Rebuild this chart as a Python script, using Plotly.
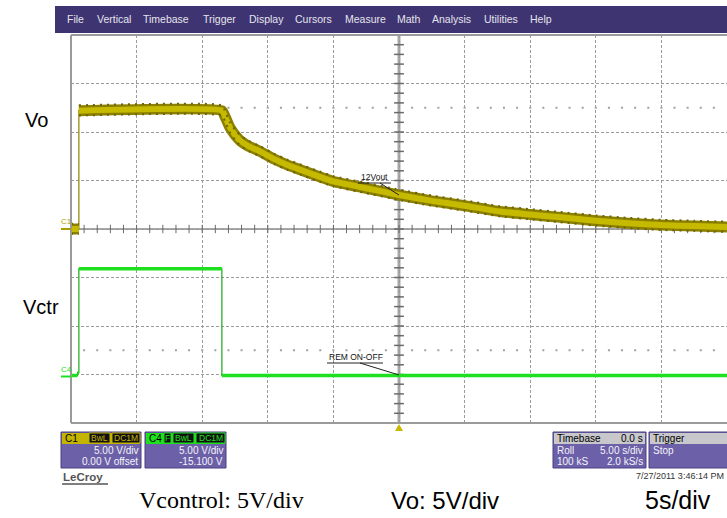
import plotly.graph_objects as go

# ---- data (seconds / volts) ----
vo_time = [0.0, 0.6, 0.6, 11.5, 11.8, 12.1, 12.5, 12.9, 13.6, 14.4, 15.5, 16.5, 17.5,
           18.7, 20.0, 22.5, 25.0, 27.5, 30.0, 32.7, 35.0, 37.3, 40.0, 42.5, 45.0,
           47.5, 50.0]
vo_volt = [0.0, 0.0, 12.2, 12.2, 11.4, 10.5, 9.7, 9.1, 8.5, 8.0, 7.2, 6.6, 6.1,
           5.5, 4.9, 4.2, 3.5, 2.9, 2.4, 1.8, 1.5, 1.2, 0.85, 0.6, 0.4,
           0.3, 0.2]

vctr_time = [0.0, 0.5, 0.5, 0.6, 0.6, 11.5, 11.5, 50.0]
vctr_volt = [0.0, 0.0, 0.3, 0.3, 11.0, 11.0, 0.0, 0.0]
c4_offset = -15.1

menu_items = ["File", "Vertical", "Timebase", "Trigger", "Display", "Cursors",
              "Measure", "Math", "Analysis", "Utilities", "Help"]
menu_x = [65, 95, 141, 201, 247, 293, 343, 395, 430, 482, 528]

OLIVE = "#8C8000"
YELLOW = "#C6BA00"
GREEN = "#1FE01F"
DKGREEN = "#1AA81A"
PURPLE = "#6C60A8"
FONT = "Liberation Sans"

# plot area in pixels
L, T, R, B = 71, 35, 727, 423


def px(x):
    return (x - L) / (R - L)


def py(y):
    return (B - y) / (B - T)


def runs(t, v):
    # split a trace wherever it jumps vertically
    out, cur_t, cur_v = [], [t[0]], [v[0]]
    for i in range(1, len(t)):
        if t[i] == t[i - 1]:
            out.append((cur_t, cur_v))
            cur_t, cur_v = [], []
        cur_t.append(t[i])
        cur_v.append(v[i])
    out.append((cur_t, cur_v))
    return [r for r in out if len(r[0]) > 1]


fig = go.Figure()

# centre cross ticks and half-division dots
minor = [i for i in range(1, 50)]
fig.add_trace(go.Scatter(x=minor, y=[0] * len(minor), mode="markers",
                         marker=dict(symbol="line-ns", size=6, line=dict(width=1, color="#6a6a6a")),
                         hoverinfo="skip"))
vminor = [v for v in range(-19, 20)]
fig.add_trace(go.Scatter(x=[25] * len(vminor), y=vminor, mode="markers",
                         marker=dict(symbol="line-ew", size=7, line=dict(width=1.5, color="#6a6a6a")),
                         hoverinfo="skip"))
for lvl in (12.5, -12.5):
    fig.add_trace(go.Scatter(x=minor, y=[lvl] * len(minor), mode="markers",
                             marker=dict(symbol="square", size=2, color="#a0a0a0"),
                             hoverinfo="skip"))

# Vctr (C4) trace
c4_y = [v + c4_offset for v in vctr_volt]
fig.add_trace(go.Scatter(x=vctr_time, y=c4_y, mode="lines",
                         line=dict(color=DKGREEN, width=1.2), hoverinfo="skip"))
for i in range(len(vctr_time) - 1):
    if vctr_volt[i] == vctr_volt[i + 1] and vctr_time[i] != vctr_time[i + 1]:
        fig.add_trace(go.Scatter(x=vctr_time[i:i + 2], y=c4_y[i:i + 2], mode="lines",
                                 line=dict(color=GREEN, width=3.5), hoverinfo="skip"))

# Vo (C1) trace: thin step, thick noisy band elsewhere
fig.add_trace(go.Scatter(x=vo_time, y=vo_volt, mode="lines",
                         line=dict(color=OLIVE, width=1.2), hoverinfo="skip"))
for rt, rv in runs(vo_time, vo_volt):
    fig.add_trace(go.Scatter(x=rt, y=rv, mode="lines", line_shape="spline",
                             line=dict(color=OLIVE, width=11, smoothing=0.4), hoverinfo="skip"))
    fig.add_trace(go.Scatter(x=rt, y=rv, mode="lines", line_shape="spline",
                             line=dict(color=YELLOW, width=6, smoothing=0.4), hoverinfo="skip"))
    for off in (0.55, -0.5):
        fig.add_trace(go.Scatter(x=rt, y=[v + off for v in rv], mode="lines", line_shape="spline",
                                 line=dict(color="#6E6400", width=2, dash="2px,5px", smoothing=0.4),
                                 hoverinfo="skip"))

shapes = []
ann = []

# centre cross lines and border
shapes.append(dict(type="line", xref="x", yref="y", x0=25, x1=25, y0=-20, y1=20,
                   line=dict(color="#a8a8a8", width=3), layer="below"))
shapes.append(dict(type="line", xref="x", yref="y", x0=0, x1=50, y0=0, y1=0,
                   line=dict(color="#8a8a8a", width=1.5), layer="below"))
for (x0, y0, x1, y1) in [(L, T, R, T), (L, T, L, B), (L, B, R, B)]:
    shapes.append(dict(type="line", xref="paper", yref="paper", x0=px(x0), x1=px(x1),
                       y0=py(y0), y1=py(y1), line=dict(color="#9a9a9a", width=2)))

# menu bar
shapes.append(dict(type="rect", xref="paper", yref="paper", x0=px(55), x1=px(727),
                   y0=py(33), y1=py(6), fillcolor="#3F3472", line_width=0))
for name, x in zip(menu_items, menu_x):
    ann.append(dict(text=name, x=px(x), y=py(19.5), xanchor="left", yanchor="middle",
                    font=dict(family=FONT, size=10.5, color="#E4E4EC")))

# channel ground markers
shapes.append(dict(type="line", xref="paper", yref="paper", x0=px(61), x1=px(71),
                   y0=py(229), y1=py(229), line=dict(color="#A89C00", width=2)))
ann.append(dict(text="C1", x=px(59), y=py(222), xanchor="left", yanchor="middle",
                font=dict(family=FONT, size=8, color="#B0A400")))
shapes.append(dict(type="line", xref="paper", yref="paper", x0=px(61), x1=px(71),
                   y0=py(376.5), y1=py(376.5), line=dict(color=GREEN, width=2)))
ann.append(dict(text="C4", x=px(59), y=py(369), xanchor="left", yanchor="middle",
                font=dict(family=FONT, size=8, color=GREEN)))

# trigger marker
shapes.append(dict(type="path", xref="paper", yref="paper",
                   path="M %f %f L %f %f L %f %f Z" % (px(395), py(431), px(403), py(431), px(399), py(424)),
                   fillcolor="#C8B800", line_width=0))

# trace labels with leaders
ann.append(dict(text="12Vout", x=px(359), y=py(177), xanchor="left", yanchor="middle",
                font=dict(family=FONT, size=8.5, color="#111")))
shapes.append(dict(type="line", xref="paper", yref="paper", x0=px(358), x1=px(391),
                   y0=py(183), y1=py(183), line=dict(color="#222", width=1)))
shapes.append(dict(type="line", xref="paper", yref="paper", x0=px(380), x1=px(399),
                   y0=py(183), y1=py(195), line=dict(color="#222", width=1)))
ann.append(dict(text="REM ON-OFF", x=px(327), y=py(357), xanchor="left", yanchor="middle",
                font=dict(family=FONT, size=8.5, color="#111")))
shapes.append(dict(type="line", xref="paper", yref="paper", x0=px(327), x1=px(383),
                   y0=py(363), y1=py(363), line=dict(color="#222", width=1)))
shapes.append(dict(type="line", xref="paper", yref="paper", x0=px(360), x1=px(399),
                   y0=py(363), y1=py(375), line=dict(color="#222", width=1)))


def panel(x0, x1, head_color, head_left, head_right, rows):
    y0, yh, y1 = 432, 444, 468
    shapes.append(dict(type="rect", xref="paper", yref="paper", x0=px(x0), x1=px(x1),
                       y0=py(y1), y1=py(y0), fillcolor=PURPLE, line=dict(color="#4A3F82", width=1)))
    shapes.append(dict(type="rect", xref="paper", yref="paper", x0=px(x0 + 1), x1=px(x1 - 1),
                       y0=py(yh), y1=py(y0 + 1), fillcolor=head_color, line_width=0))
    ann.append(dict(text=head_left, x=px(x0 + 2), y=py(438.5), xanchor="left", yanchor="middle",
                    font=dict(family=FONT, size=10, color="#000")))
    if head_right:
        ann.append(dict(text=head_right, x=px(x1 - 1), y=py(438.5), xanchor="right",
                        yanchor="middle", font=dict(family=FONT, size=10, color="#000")))
    for i, (left, right) in enumerate(rows):
        yy = 450.5 + i * 11
        if left:
            ann.append(dict(text=left, x=px(x0 + 2), y=py(yy), xanchor="left", yanchor="middle",
                            font=dict(family=FONT, size=10, color="#F4F4F8")))
        if right:
            ann.append(dict(text=right, x=px(x1 - 1), y=py(yy), xanchor="right", yanchor="middle",
                            font=dict(family=FONT, size=10, color="#F4F4F8")))


def badge(x0, x1, text, color):
    shapes.append(dict(type="rect", xref="paper", yref="paper", x0=px(x0), x1=px(x1),
                       y0=py(443), y1=py(433), fillcolor="#111", line=dict(color=color, width=1)))
    ann.append(dict(text=text, x=px((x0 + x1) / 2), y=py(438.3), xanchor="center", yanchor="middle",
                    font=dict(family=FONT, size=8.5, color=color)))


panel(61, 141, "#C4B400", "C1", "", [("", "5.00 V/div"), ("", "0.00 V offset")])
badge(89, 110, "BwL", "#C4B400")
badge(112, 140, "DC1M", "#C4B400")
panel(145, 226, GREEN, "C4", "", [("", "5.00 V/div"), ("", "-15.100 V")])
badge(164, 171, "F", GREEN)
badge(173, 194, "BwL", GREEN)
badge(196, 225, "DC1M", GREEN)
panel(553, 646, "#C8C8CC", "Timebase", "0.0 s", [("Roll", "5.00 s/div"), ("100 kS", "2.0 kS/s")])
panel(649, 740, "#C8C8CC", "Trigger", "", [("Stop", "")])

ann.append(dict(text="<b>LeCroy</b>", x=px(61), y=py(477), xanchor="left", yanchor="middle",
                font=dict(family=FONT, size=11.5, color="#555")))
shapes.append(dict(type="line", xref="paper", yref="paper", x0=px(62), x1=px(108),
                   y0=py(484), y1=py(484), line=dict(color="#555", width=1.5)))
ann.append(dict(text="7/27/2011 3:46:14 PM", x=px(726), y=py(476), xanchor="right", yanchor="middle",
                font=dict(family=FONT, size=9, color="#333")))

# outside labels
ann.append(dict(text="Vo", x=px(23), y=py(120), xanchor="left", yanchor="middle",
                font=dict(family=FONT, size=20, color="#000")))
ann.append(dict(text="Vctr", x=px(21), y=py(307), xanchor="left", yanchor="middle",
                font=dict(family=FONT, size=20, color="#000")))
ann.append(dict(text="Vcontrol: 5V/div", x=px(137), y=py(500), xanchor="left", yanchor="middle",
                font=dict(family="Liberation Serif", size=24, color="#000")))
ann.append(dict(text="Vo: 5V/div", x=px(389), y=py(500), xanchor="left", yanchor="middle",
                font=dict(family=FONT, size=24, color="#000")))
ann.append(dict(text="5s/div", x=px(643), y=py(500), xanchor="left", yanchor="middle",
                font=dict(family=FONT, size=25, color="#000")))

for a in ann:
    a.update(xref="paper", yref="paper", showarrow=False)

fig.update_layout(
    width=727, height=518,
    margin=dict(l=L, r=727 - R, t=T, b=518 - B),
    paper_bgcolor="white", plot_bgcolor="white",
    showlegend=False,
    shapes=shapes, annotations=ann,
)
fig.update_xaxes(range=[0, 50], dtick=5, tick0=0, showgrid=True, gridcolor="#9a9a9a",
                 griddash="3px,2px", gridwidth=1, showticklabels=False, zeroline=False,
                 showline=False, ticks="", fixedrange=True)
fig.update_yaxes(range=[-20, 20], dtick=5, tick0=0, showgrid=True, gridcolor="#9a9a9a",
                 griddash="3px,2px", gridwidth=1, showticklabels=False, zeroline=False,
                 showline=False, ticks="", fixedrange=True)

fig.write_html("out.html", config=dict(displayModeBar=False),
               post_script="document.body.style.margin='0';")
